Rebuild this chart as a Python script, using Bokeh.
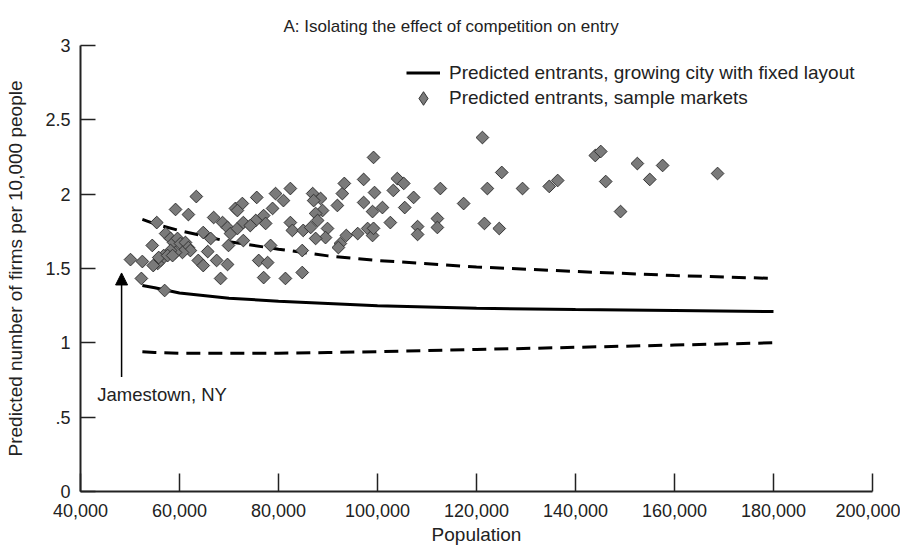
import numpy as np
from bokeh.plotting import figure
from bokeh.models import (Range1d, FixedTicker, NumeralTickFormatter, Legend, LegendItem,
                          Arrow, NormalHead, Label, ColumnDataSource)
from bokeh.embed import file_html
from bokeh.resources import INLINE

# ---- data ----
curve_pop = [52500, 55000, 60000, 70000, 80000, 90000, 100000, 120000, 140000, 160000, 180000]
fixed_layout = [1.385, 1.37, 1.335, 1.30, 1.28, 1.265, 1.25, 1.232, 1.224, 1.218, 1.21]
upper_band = [1.83, 1.80, 1.755, 1.68, 1.63, 1.585, 1.554, 1.51, 1.48, 1.453, 1.433]
lower_band = [0.94, 0.935, 0.93, 0.93, 0.93, 0.935, 0.94, 0.955, 0.97, 0.985, 1.0]

sample_pop = [50100, 52500, 52300, 57000, 54500, 55400, 59200, 61800, 63400, 57200,
              58200, 58800, 59600, 60200, 61200, 61800, 62200, 60600, 59200, 58200,
              56800, 56200, 55600, 54700, 55800, 57600, 58600, 63800, 64800, 65700,
              67500, 69700, 68300, 64800, 66900, 68700, 69700, 70300, 69900, 66300,
              71700, 71300, 72700, 75600, 79400, 82400, 71700, 81000, 78800, 77000,
              77400, 75400, 72900, 74300, 72900, 78400, 76000, 77800, 77000, 81400,
              84800, 84800, 82400, 82800, 85000, 86500, 86900, 88500, 87100, 88900,
              87500, 87900, 89900, 89500, 87500, 91900, 92900, 93300, 93700, 92500,
              92100, 96000, 98000, 99000, 97200, 99400, 97200, 99000, 99200, 101000,
              102600, 103200, 104000, 105300, 105500, 107300, 108100, 108100, 112100, 112100,
              112700, 117400, 121200, 122200, 121600, 124600, 125100, 129300, 134700, 136400,
              144000, 145100, 146100, 149100, 152500, 155000, 157600, 168700, 99200]
sample_rate = [1.56, 1.547, 1.433, 1.352, 1.655, 1.809, 1.897, 1.863, 1.984, 1.735,
               1.702, 1.675, 1.702, 1.668, 1.675, 1.641, 1.621, 1.608, 1.608, 1.621,
               1.587, 1.554, 1.534, 1.52, 1.574, 1.587, 1.587, 1.554, 1.52, 1.614,
               1.554, 1.527, 1.433, 1.742, 1.843, 1.809, 1.776, 1.735, 1.655, 1.702,
               1.769, 1.904, 1.937, 1.978, 2.004, 2.038, 1.89, 1.957, 1.904, 1.856,
               1.803, 1.823, 1.809, 1.789, 1.688, 1.655, 1.554, 1.54, 1.439, 1.433,
               1.473, 1.621, 1.809, 1.756, 1.756, 1.776, 2.004, 1.971, 1.957, 1.89,
               1.87, 1.823, 1.769, 1.708, 1.702, 1.924, 2.004, 2.072, 1.722, 1.668,
               1.641, 1.735, 1.769, 1.722, 2.099, 2.011, 1.944, 1.883, 2.247, 1.91,
               1.809, 2.025, 2.105, 2.072, 1.91, 1.978, 1.782, 1.729, 1.836, 1.776,
               2.038, 1.937, 2.381, 2.038, 1.803, 1.769, 2.146, 2.038, 2.052, 2.092,
               2.26, 2.287, 2.085, 1.883, 2.206, 2.099, 2.193, 2.139, 1.77]

jamestown_pop = 48300
arrow_from = 0.77
arrow_to = 1.47

x_ticks = [40000, 60000, 80000, 100000, 120000, 140000, 160000, 180000, 200000]
y_ticks = [0, 0.5, 1, 1.5, 2, 2.5, 3]
y_tick_labels = ["0", ".5", "1", "1.5", "2", "2.5", "3"]

TITLE = "A: Isolating the effect of competition on entry"
X_LABEL = "Population"
Y_LABEL = "Predicted number of firms per 10,000 people"

FONT = "Liberation Sans"
TXT = "#222222"

p = figure(width=900, height=550, output_backend="svg", toolbar_location=None,
           x_range=Range1d(40000, 200000), y_range=Range1d(0, 3),
           min_border_left=80, min_border_right=28, min_border_top=45, min_border_bottom=59)
p.outline_line_color = None
p.xgrid.visible = False
p.ygrid.visible = False
p.background_fill_color = "white"

p.title.text = TITLE
p.title.align = "left"
p.title.vertical_align = "top"
p.title.text_font = FONT
p.title.text_font_size = "17px"
p.title.text_font_style = "normal"
p.title.text_color = TXT
p.title.offset = 203
p.title.standoff = 16

for ax in (p.xaxis[0], p.yaxis[0]):
    ax.axis_line_width = 2
    ax.axis_line_color = TXT
    ax.major_tick_line_color = TXT
    ax.major_tick_line_width = 1.5
    ax.minor_tick_line_color = None
    ax.major_tick_out = 0
    ax.major_label_text_font = FONT
    ax.major_label_text_font_size = "18px"
    ax.major_label_text_color = TXT
    ax.axis_label_text_font = FONT
    ax.axis_label_text_font_size = "19px"
    ax.axis_label_text_font_style = "normal"
    ax.axis_label_text_color = TXT

p.xaxis.ticker = FixedTicker(ticks=x_ticks)
p.xaxis.formatter = NumeralTickFormatter(format="0,0")
p.xaxis.major_tick_in = 18
p.xaxis.major_label_standoff = 12
p.xaxis.axis_label = X_LABEL
p.xaxis.axis_label_standoff = 4

p.yaxis.ticker = FixedTicker(ticks=y_ticks)
p.yaxis.major_label_overrides = {t: s for t, s in zip(y_ticks, y_tick_labels)}
p.yaxis.major_tick_in = 15
p.yaxis.major_label_standoff = 10
p.yaxis.axis_label = Y_LABEL
p.yaxis.axis_label_standoff = 16

r_fixed = p.line(curve_pop, fixed_layout, line_color="black", line_width=3)
p.line(curve_pop, upper_band, line_color="black", line_width=3, line_dash="14 8")
p.line(curve_pop, lower_band, line_color="black", line_width=3, line_dash="14 8")

src = ColumnDataSource(dict(x=sample_pop, y=sample_rate))
p.scatter("x", "y", source=src, marker="square", size=9, angle=np.pi / 4,
          fill_color="#7a7a7a", line_color="#333333", line_width=1)
# legend-only glyph (legend glyphs are never rotated, so use the diamond marker); NaN => not drawn in plot
r_key = p.scatter(x=[np.nan], y=[np.nan], marker="diamond", fill_color="#7a7a7a",
                  line_color="#333333", line_width=1)

p.add_layout(Arrow(end=NormalHead(size=12, fill_color="black", line_color="black"),
                   x_start=jamestown_pop, y_start=arrow_from, x_end=jamestown_pop, y_end=arrow_to,
                   line_color="black", line_width=1.5))
p.add_layout(Label(x=43400, y=0.655, text="Jamestown, NY", text_font=FONT, text_font_size="18.5px",
                   text_color=TXT, text_baseline="middle", text_align="left"))

legend_style = dict(border_line_color=None, background_fill_alpha=0,
                    label_text_font=FONT, label_text_font_size="19px", label_text_color=TXT,
                    glyph_width=34, label_height=22, spacing=0, label_standoff=9,
                    margin=0, padding=6)
legend1 = Legend(items=[LegendItem(label="Predicted entrants, growing city with fixed layout", renderers=[r_fixed])],
                 location=(326, 406), glyph_height=25, **legend_style)
legend2 = Legend(items=[LegendItem(label="Predicted entrants, sample markets", renderers=[r_key])],
                 location=(326, 376), glyph_height=34, **legend_style)
p.add_layout(legend1)
p.add_layout(legend2)

open("out.html", "w").write(file_html(p, INLINE))
